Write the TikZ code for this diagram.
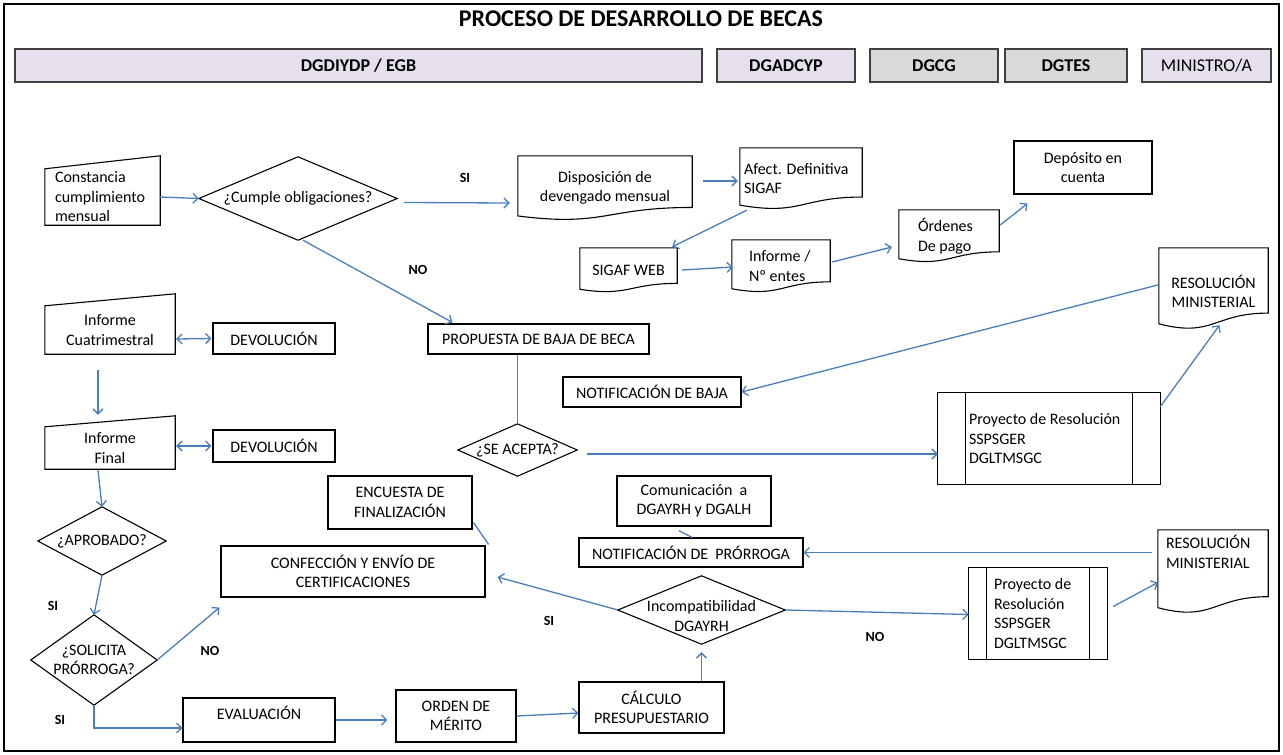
\documentclass[tikz,border=0pt]{standalone}
\usepackage{fontspec}
\setmainfont{Carlito}
\usetikzlibrary{calc,arrows.meta}
\definecolor{linkblue}{HTML}{4A7EBB}
\definecolor{lav}{HTML}{E5E0EC}
\definecolor{hgray}{HTML}{D9D9D9}
\tikzset{
  shapebox/.style={draw=none,inner sep=0pt,align=center,font=\fontsize{16}{19.5}\selectfont},
  rbox/.style={draw=black,line width=1.1pt},
  hdr/.style={draw=black!75,line width=1.3pt,font=\fontsize{18}{20}\selectfont},
  outl/.style={draw=black,line width=1.1pt},
  conn/.style={draw=linkblue,line width=1.3pt},
  arr/.style={conn,-{Straight Barb[length=5pt,width=10pt]}},
  darr/.style={conn,{Straight Barb[length=5pt,width=10pt]}-{Straight Barb[length=5pt,width=10pt]}},
  yn/.style={font=\bfseries\fontsize{14}{16}\selectfont,inner sep=0pt}
}
\newcommand\mknode[7][]{\node[shapebox,#1,minimum width={(#5-#3)*1pt},minimum height={(#6-#4)*1pt}] (#2) at ({(#3+#5)/2},{(#4+#6)/2}) {#7};}
\newcommand\mknodeL[8][]{\node[shapebox,#1,align=flush left,inner xsep=#7pt,text width={(#5-#3-2*#7)*1pt},minimum width={(#5-#3)*1pt},minimum height={(#6-#4)*1pt}] (#2) at ({(#3+#5)/2},{(#4+#6)/2}) {#8};}
\newcommand\docoutline[1]{\draw[outl] (#1.north west) -- (#1.north east) -- ($(#1.south east)!0.198!(#1.north east)$) .. controls ($(#1.south)!0.198!(#1.north)$) and ($(#1.south)!-0.107!(#1.north)$) .. ($(#1.south west)!0.066!(#1.north west)$) -- cycle;}
\newcommand\manoutline[2]{\draw[outl] (#1.south west) -- (#1.north west) -- ([yshift=#2pt]#1.north east) -- (#1.south east) -- cycle;}
\newcommand\procoutline[1]{\draw[outl] (#1.south west) rectangle (#1.north east);
  \draw[outl] ($(#1.north west)!0.125!(#1.north east)$) -- ($(#1.south west)!0.125!(#1.south east)$);
  \draw[outl] ($(#1.north west)!0.875!(#1.north east)$) -- ($(#1.south west)!0.875!(#1.south east)$);}
\newcommand\diaoutline[1]{\draw[outl] (#1.west) -- (#1.north) -- (#1.east) -- (#1.south) -- cycle;}
\newcommand\diaoutlineS[2]{\draw[outl] ([yshift=#2pt]#1.west) -- ([yshift=#2pt]#1.north) -- ([yshift=#2pt]#1.east) -- ([yshift=#2pt]#1.south) -- cycle;}
\begin{document}
\begin{tikzpicture}[x=1pt,y=-1pt]
\useasboundingbox (0,0) rectangle (1283,755);
\draw[line width=2.5pt] (4,4) rectangle (1279,751);
\node[font=\bfseries\fontsize{24}{26}\selectfont,inner sep=0pt] (title) at (641,19) {PROCESO DE DESARROLLO DE BECAS};
% headers
\mknode[hdr,fill=lav]{h1}{15}{49}{702}{82}{\bfseries DGDIYDP / EGB}
\mknode[hdr,fill=lav]{h2}{717}{49}{855}{82}{\bfseries DGADCYP}
\mknode[hdr,fill=hgray]{h3}{870}{49}{998}{82}{\bfseries DGCG}
\mknode[hdr,fill=hgray]{h4}{1005}{49}{1127}{82}{\bfseries DGTES}
\mknode[hdr,fill=lav]{h5}{1142}{49}{1271}{82}{MINISTRO/A}
% top row
\mknodeL{const}{45}{169}{160}{225}{10}{Constancia\\cumplimiento\\mensual}
\manoutline{const}{13}
\mknode{cump}{199}{157}{397}{240}{¿Cumple obligaciones?}
\diaoutline{cump}
\mknode{disp}{518}{156}{692}{220}{Disposición de\\devengado mensual}
\docoutline{disp}
\mknodeL{afect}{740}{148}{862}{209}{4}{Afect. Definitiva\\SIGAF}
\docoutline{afect}
\mknode{sweb}{580}{248}{677}{292}{SIGAF WEB}
\docoutline{sweb}
\mknodeL{inform}{732}{240}{830}{292}{17}{Informe /\\Nº entes}
\docoutline{inform}
\mknodeL{orden1}{899}{210}{999}{262}{19}{Órdenes\\De pago}
\docoutline{orden1}
\mknode[rbox]{depo}{1014}{141}{1152}{194}{Depósito en\\cuenta}
\mknode{resol1}{1159}{248}{1268}{329}{\mbox{}\\RESOLUCIÓN\\MINISTERIAL}
\docoutline{resol1}
% middle
\mknode[rbox]{prop}{428}{324}{649}{354}{PROPUESTA DE BAJA DE BECA}
\mknode[rbox]{nbaja}{563}{377}{741}{407}{NOTIFICACIÓN DE BAJA}
\mknode{acept}{458}{424}{577}{476}{¿SE ACEPTA?}
\diaoutline{acept}
\mknodeL{proy1}{938}{393}{1160}{484}{31}{Proyecto de Resolución\\SSPSGER\\DGLTMSGC}
\procoutline{proy1}
% left column
\mknode{icuat}{45}{306}{175}{354}{Informe\\Cuatrimestral}
\manoutline{icuat}{12}
\mknode[rbox]{dev1}{213}{323}{335}{354}{DEVOLUCIÓN}
\mknode{ifin}{45}{427}{175}{469}{Informe\\Final}
\manoutline{ifin}{11}
\mknode[rbox]{dev2}{213}{430}{335}{462}{DEVOLUCIÓN}
\mknode{aprob}{38}{507}{166}{575}{¿APROBADO?}
\diaoutline{aprob}
\mknode{solic}{31}{615}{157}{705}{¿SOLICITA\\PRÓRROGA?}
\diaoutline{solic}
% bottom
\mknode[rbox]{evalu}{183}{698}{335}{742}{EVALUACIÓN\\[-6pt]\mbox{}}
\mknode[rbox]{merit}{396}{690}{516}{742}{ORDEN DE\\MÉRITO}
\mknode[rbox]{calc}{579}{682}{724}{733}{CÁLCULO\\PRESUPUESTARIO}
\mknode{incomp}{618}{582}{785}{650}{Incompatibilidad\\DGAYRH}
\diaoutlineS{incomp}{6}
\mknode[rbox]{npror}{579}{538}{803}{567}{NOTIFICACIÓN DE\ \ PRÓRROGA}
\mknode[rbox]{comun}{617}{476}{771}{526}{Comunicación\ \ a\\DGAYRH y DGALH}
\mknodeL{resol2}{1158}{530}{1268}{613}{8}{RESOLUCIÓN\\MINISTERIAL\\\mbox{}\\\mbox{}}
\docoutline{resol2}
\mknodeL{proy2}{969}{568}{1107}{659}{25}{Proyecto de\\Resolución\\SSPSGER\\DGLTMSGC}
\procoutline{proy2}
\mknode[rbox]{encu}{328}{476}{472}{529}{ENCUESTA DE\\FINALIZACIÓN}
\mknode[rbox]{confec}{221}{546}{485}{597}{CONFECCIÓN Y ENVÍO DE\\CERTIFICACIONES}
% connectors
\draw[arr] (const.east) -- (cump.west);
\draw[arr] ($(cump.east)+(7,4)$) -- ($(disp.west)+(-8,15)$);
\draw[arr] ($(disp.east)+(11,-7)$) -- ($(afect.west)+(-2,2.5)$);
\draw[arr] ($(afect.south west)+(7,1)$) -- ($(sweb.north east)+(-5,-1)$);
\draw[arr] ($(sweb.east)+(5,0)$) -- ($(inform.west)+(1,1)$);
\draw[arr] ($(inform.east)+(2,-4)$) -- ($(orden1.west)+(-7,11)$);
\draw[arr] ($(orden1.east)+(1,-11)$) -- ($(depo.south west)+(14,9)$);
\draw[arr] ($(resol1.west)+(-1,-3.5)$) -- (nbaja.east);
\draw[arr] ($(cump.south)+(5,0)$) -- ($(prop.north west)+(25,-1)$);
\draw[conn] (prop.south -| acept.north) -- (acept.north);
\draw[arr] ($(acept.east)+(10,4)$) coordinate (ae) -- (ae -| proy1.west);
\draw[arr] ($(proy1.north east)+(0,14)$) -- ($(resol1.south)+(6,-4)$);
\draw[darr] ($(icuat.east)+(1,9)$) -- ($(dev1.west)+(-1,0)$);
\draw[arr] ($(icuat.south)+(-12,16)$) -- ($(ifin.north)+(-12,-12)$);
\draw[darr] ($(ifin.east)+(1,-2)$) -- ($(dev2.west)+(-1,0)$);
\draw[arr] ($(ifin.south)+(-12,1)$) -- (aprob.north);
\draw[arr] (aprob.south) -- (solic.north);
\draw[arr] (solic.east) -- ($(confec.south west)+(-1,10)$);
\draw[arr] (solic.south) |- ($(evalu.west)+(0,8)$);
\draw[arr] (evalu.east) -- ($(merit.west)+(-8,4)$);
\draw[arr] (merit.east) -- ($(calc.west)+(0,5.5)$);
\draw[arr] (incomp.south |- calc.north) -- ($(incomp.south)+(0,2)$);
\draw[arr] ($(incomp.west)+(0,-6)$) -- ($(confec.east)+(12,5.5)$);
\draw[arr] ($(incomp.east)+(0,-6)$) -- ($(proy2.west)+(0,1)$);
\draw[arr] ($(resol2.west)+(-6,-19)$) coordinate (rw) -- (rw -| npror.east);
\draw[conn] ($(comun.south)+(-15,4)$) -- ($(npror.north)+(1,0)$);
\draw[conn] ($(encu.south east)+(1,-7)$) -- ($(confec.north east)+(3,-1)$);
\draw[arr] ($(proy2.east)+(6,-7)$) -- ($(resol2.west)+(0,11)$);
% labels
\node[yn] (siA) at (465,178) {SI};
\node[yn] (noA) at (418,270) {NO};
\node[yn] (siB) at (53,606) {SI};
\node[yn] (noB) at (210,651) {NO};
\node[yn] (siC) at (60,720) {SI};
\node[yn] (siD) at (549,621) {SI};
\node[yn] (noC) at (875,637) {NO};
\end{tikzpicture}
\end{document}
